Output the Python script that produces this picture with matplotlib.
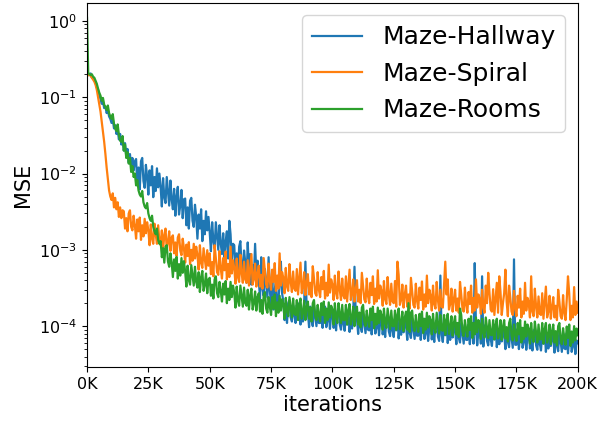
import matplotlib
matplotlib.use('Agg')
import matplotlib.pyplot as plt
from matplotlib.ticker import FuncFormatter


# training step of each logged value (one every 500 iterations)
steps = [i * 500 for i in range(401)]

# Maze-Hallway MSE, one row per 5K iterations
hallway = [
    1.9e-1, 2.0e-1, 1.95e-1, 2.05e-1, 1.8e-1, 1.85e-1, 1.65e-1, 1.55e-1, 1.35e-1, 1.25e-1,
    1.05e-1, 9.5e-2, 8.2e-2, 8.8e-2, 7.2e-2, 7.6e-2, 6.2e-2, 6.8e-2, 5.6e-2, 5.2e-2,
    4.6e-2, 5.2e-2, 3.9e-2, 4.3e-2, 3.3e-2, 3.8e-2, 2.8e-2, 3.3e-2, 2.4e-2, 2.9e-2,
    2.0e-2, 2.5e-2, 1.7e-2, 2.1e-2, 1.4e-2, 1.8e-2, 1.25e-2, 1.6e-2, 1.1e-2, 1.45e-2,
    1.55e-2, 7.0e-3, 1.2e-2, 6.2e-3, 1.45e-2, 1.6e-2, 8.0e-3, 6.5e-3, 1.3e-2, 9.0e-3,
    5.3e-3, 1.1e-2, 7.0e-3, 1.25e-2, 4.9e-3, 9.0e-3, 5.9e-3, 1.17e-2, 6.6e-3, 1.0e-2,
    6.7e-3, 3.7e-3, 8.7e-3, 4.9e-3, 4.1e-3, 9.0e-3, 5.8e-3, 3.8e-3, 8.1e-3, 4.6e-3,
    3.4e-3, 6.3e-3, 2.8e-3, 5.0e-3, 6.7e-3, 2.9e-3, 3.8e-3, 6.1e-3, 2.6e-3, 4.6e-3,
    4.7e-3, 2.1e-3, 3.6e-3, 1.9e-3, 4.4e-3, 4.8e-3, 2.4e-3, 2.0e-3, 3.9e-3, 2.7e-3,
    1.4e-3, 2.9e-3, 1.9e-3, 3.4e-3, 1.3e-3, 2.4e-3, 1.6e-3, 3.2e-3, 1.8e-3, 2.7e-3,
    1.7e-3, 9.6e-4, 2.3e-3, 1.3e-3, 1.05e-3, 2.3e-3, 1.5e-3, 1.0e-3, 2.1e-3, 1.2e-3,
    8.8e-4, 1.65e-3, 7.3e-4, 1.3e-3, 1.75e-3, 7.7e-4, 2.4e-3, 1.6e-3, 6.8e-4, 1.2e-3,
    1.15e-3, 5.2e-4, 9.0e-4, 4.6e-4, 1.1e-3, 1.3e-3, 6.0e-4, 4.9e-4, 9.8e-4, 6.8e-4,
    3.7e-4, 1.25e-3, 5.0e-4, 8.8e-4, 3.5e-4, 6.3e-4, 4.1e-4, 1.2e-3, 4.7e-4, 7.2e-4,
    4.1e-4, 2.3e-4, 8.0e-4, 3.1e-4, 2.5e-4, 5.6e-4, 3.6e-4, 2.4e-4, 8.0e-4, 2.9e-4,
    2.0e-4, 3.8e-4, 1.65e-4, 3.0e-4, 4.0e-4, 1.75e-4, 2.2e-4, 3.6e-4, 7.0e-4, 2.7e-4,
    2.1e-4, 1.2e-4, 1.7e-4, 1.1e-4, 2.0e-4, 2.2e-4, 1.3e-4, 1.15e-4, 1.85e-4, 1.4e-4,
    1.1e-4, 1.9e-4, 1.35e-4, 2.0e-4, 1.05e-4, 1.6e-4, 1.15e-4, 2.0e-4, 7.0e-4, 1.75e-4,
    1.5e-4, 9.7e-5, 1.8e-4, 1.2e-4, 1.0e-4, 1.85e-4, 1.35e-4, 1.0e-4, 1.75e-4, 1.1e-4,
    1.1e-4, 1.75e-4, 9.5e-5, 1.5e-4, 1.8e-4, 9.7e-5, 1.2e-4, 1.65e-4, 9.2e-5, 1.4e-4,
    1.65e-4, 9.5e-5, 1.35e-4, 8.8e-5, 1.55e-4, 1.7e-4, 1.05e-4, 9.0e-5, 1.45e-4, 1.1e-4,
    8.7e-5, 1.5e-4, 1.05e-4, 1.6e-4, 8.4e-5, 1.3e-4, 9.3e-5, 1.55e-4, 6.0e-4, 1.4e-4,
    1.25e-4, 7.9e-5, 1.5e-4, 9.7e-5, 8.4e-5, 1.5e-4, 1.1e-4, 8.1e-5, 1.45e-4, 9.0e-5,
    8.8e-5, 1.4e-4, 7.8e-5, 1.2e-4, 1.45e-4, 8.0e-5, 9.7e-5, 1.35e-4, 7.6e-5, 1.15e-4,
    1.35e-4, 7.8e-5, 1.1e-4, 7.2e-5, 1.3e-4, 1.4e-4, 8.5e-5, 7.4e-5, 1.2e-4, 9.0e-5,
    7.2e-5, 1.25e-4, 8.8e-5, 1.35e-4, 6.9e-5, 1.1e-4, 7.7e-5, 1.3e-4, 8.3e-5, 1.15e-4,
    1.05e-4, 6.6e-5, 1.25e-4, 8.1e-5, 7.0e-5, 1.25e-4, 9.2e-5, 6.8e-5, 1.2e-4, 7.5e-5,
    7.5e-5, 1.2e-4, 6.6e-5, 1.0e-4, 1.25e-4, 6.8e-5, 8.2e-5, 1.15e-4, 6.4e-5, 9.6e-5,
    1.15e-4, 6.7e-5, 9.5e-5, 6.2e-5, 1.1e-4, 1.2e-4, 7.3e-5, 6.4e-5, 4.6e-4, 7.7e-5,
    6.2e-5, 1.1e-4, 7.6e-5, 1.15e-4, 6.0e-5, 9.3e-5, 6.6e-5, 1.1e-4, 7.1e-5, 1.0e-4,
    9.0e-5, 5.8e-5, 1.1e-4, 7.0e-5, 6.1e-5, 1.1e-4, 8.0e-5, 5.9e-5, 1.05e-4, 6.6e-5,
    6.6e-5, 1.05e-4, 5.8e-5, 9.0e-5, 1.1e-4, 5.9e-5, 6.7e-4, 1.0e-4, 5.6e-5, 8.4e-5,
    1.0e-4, 5.9e-5, 4.5e-4, 5.4e-5, 9.6e-5, 1.05e-4, 6.4e-5, 5.6e-5, 9.0e-5, 6.8e-5,
    5.5e-5, 9.5e-5, 6.7e-5, 1.0e-4, 5.3e-5, 8.2e-5, 5.8e-5, 9.9e-5, 6.3e-5, 8.9e-5,
    7.8e-5, 5.0e-5, 9.5e-5, 6.2e-5, 5.3e-5, 9.7e-5, 7.0e-5, 5.2e-5, 7.5e-4, 5.7e-5,
    5.7e-5, 9.2e-5, 5.0e-5, 7.8e-5, 9.5e-5, 5.2e-5, 6.3e-5, 8.8e-5, 4.9e-5, 7.3e-5,
    8.9e-5, 5.1e-5, 7.3e-5, 4.8e-5, 8.4e-5, 9.2e-5, 5.6e-5, 4.9e-5, 7.9e-5, 5.9e-5,
    4.8e-5, 8.3e-5, 5.9e-5, 9.0e-5, 4.6e-5, 7.2e-5, 5.1e-5, 8.6e-5, 5.5e-5, 7.8e-5,
    6.9e-5, 4.5e-5, 8.4e-5, 5.5e-5, 4.7e-5, 8.6e-5, 6.2e-5, 4.6e-5, 8.1e-5, 5.1e-5,
    5.0e-5, 8.1e-5, 4.4e-5, 6.9e-5, 8.4e-5, 4.6e-5, 5.5e-5, 7.8e-5, 4.3e-5, 6.5e-5,
    6.0e-5,
]

# Maze-Spiral MSE
spiral = [
    1.9e-1, 1.95e-1, 2.0e-1, 1.9e-1, 1.8e-1, 1.7e-1, 1.6e-1, 1.45e-1, 1.25e-1, 1.0e-1,
    8.0e-2, 6.5e-2, 4.8e-2, 3.6e-2, 2.6e-2, 1.8e-2, 1.2e-2, 8.5e-3, 6.0e-3, 5.0e-3,
    4.5e-3, 5.5e-3, 3.6e-3, 4.8e-3, 3.4e-3, 4.2e-3, 2.7e-3, 3.6e-3, 2.6e-3, 3.3e-3,
    3.2e-3, 1.9e-3, 2.6e-3, 1.75e-3, 3.0e-3, 3.3e-3, 2.0e-3, 1.8e-3, 2.8e-3, 2.1e-3,
    1.4e-3, 2.5e-3, 1.75e-3, 2.65e-3, 1.35e-3, 2.1e-3, 1.5e-3, 2.55e-3, 1.65e-3, 2.3e-3,
    1.8e-3, 1.15e-3, 2.15e-3, 1.4e-3, 1.2e-3, 2.2e-3, 1.6e-3, 1.2e-3, 2.1e-3, 1.3e-3,
    1.15e-3, 1.8e-3, 1.0e-3, 1.55e-3, 1.9e-3, 1.0e-3, 1.25e-3, 1.75e-3, 9.7e-4, 1.45e-3,
    1.55e-3, 9.0e-4, 1.25e-3, 8.3e-4, 1.45e-3, 1.6e-3, 9.8e-4, 8.5e-4, 1.4e-3, 1.05e-3,
    6.8e-4, 1.17e-3, 8.3e-4, 1.26e-3, 6.5e-4, 1.0e-3, 7.2e-4, 1.2e-3, 7.7e-4, 1.1e-3,
    8.5e-4, 5.5e-4, 1.15e-3, 6.7e-4, 5.8e-4, 1.05e-3, 7.6e-4, 5.6e-4, 9.9e-4, 6.2e-4,
    9.0e-4, 4.8e-4, 6.9e-4, 4.5e-4, 1.15e-3, 7.8e-4, 5.1e-4, 4.7e-4, 9.6e-4, 5.7e-4,
    4.2e-4, 7.8e-4, 5.4e-4, 9.5e-4, 4.1e-4, 6.5e-4, 4.4e-4, 1.1e-3, 4.9e-4, 7.3e-4,
    5.8e-4, 3.6e-4, 7.7e-4, 4.4e-4, 3.8e-4, 8.6e-4, 5.0e-4, 3.7e-4, 7.0e-4, 4.1e-4,
    3.7e-4, 7.3e-4, 3.4e-4, 5.5e-4, 8.8e-4, 3.5e-4, 4.2e-4, 6.6e-4, 3.3e-4, 4.8e-4,
    6.2e-4, 3.3e-4, 4.7e-4, 3.1e-4, 7.8e-4, 5.3e-4, 3.5e-4, 3.2e-4, 6.6e-4, 3.9e-4,
    3.0e-4, 5.5e-4, 3.8e-4, 6.7e-4, 2.9e-4, 4.6e-4, 3.1e-4, 9.0e-4, 3.4e-4, 5.1e-4,
    4.3e-4, 2.7e-4, 5.8e-4, 3.3e-4, 2.9e-4, 6.5e-4, 3.8e-4, 2.8e-4, 5.2e-4, 3.1e-4,
    2.9e-4, 5.6e-4, 2.6e-4, 4.3e-4, 6.8e-4, 2.7e-4, 3.2e-4, 5.1e-4, 2.55e-4, 3.7e-4,
    4.8e-4, 2.6e-4, 3.7e-4, 2.4e-4, 6.1e-4, 4.2e-4, 2.7e-4, 2.5e-4, 5.1e-4, 3.0e-4,
    2.4e-4, 4.4e-4, 3.05e-4, 5.3e-4, 2.3e-4, 3.7e-4, 2.5e-4, 6.4e-4, 2.75e-4, 4.1e-4,
    3.5e-4, 2.2e-4, 4.6e-4, 2.7e-4, 2.3e-4, 5.2e-4, 3.0e-4, 2.2e-4, 4.2e-4, 2.5e-4,
    2.3e-4, 4.5e-4, 2.1e-4, 3.4e-4, 5.5e-4, 2.2e-4, 2.6e-4, 4.1e-4, 2.1e-4, 3.0e-4,
    4.0e-4, 2.1e-4, 3.0e-4, 2.0e-4, 5.0e-4, 3.4e-4, 2.25e-4, 2.05e-4, 4.2e-4, 2.5e-4,
    2.0e-4, 3.7e-4, 2.55e-4, 4.5e-4, 1.95e-4, 3.1e-4, 2.1e-4, 5.4e-4, 2.3e-4, 3.4e-4,
    2.9e-4, 1.85e-4, 3.9e-4, 2.25e-4, 1.95e-4, 4.4e-4, 2.6e-4, 1.9e-4, 3.6e-4, 2.1e-4,
    2.0e-4, 3.9e-4, 1.8e-4, 7.0e-4, 4.7e-4, 1.9e-4, 2.2e-4, 3.5e-4, 1.75e-4, 2.6e-4,
    3.4e-4, 1.8e-4, 2.6e-4, 1.7e-4, 4.3e-4, 2.9e-4, 1.9e-4, 1.75e-4, 3.6e-4, 2.15e-4,
    1.7e-4, 3.2e-4, 2.2e-4, 3.85e-4, 1.65e-4, 2.6e-4, 1.8e-4, 4.6e-4, 2.0e-4, 3.0e-4,
    2.5e-4, 1.6e-4, 3.4e-4, 1.95e-4, 1.7e-4, 3.8e-4, 2.2e-4, 1.6e-4, 3.0e-4, 1.8e-4,
    1.75e-4, 3.4e-4, 7.0e-4, 2.6e-4, 4.1e-4, 1.65e-4, 1.95e-4, 3.1e-4, 1.55e-4, 2.25e-4,
    3.0e-4, 1.6e-4, 2.3e-4, 1.5e-4, 3.8e-4, 2.6e-4, 1.7e-4, 1.55e-4, 3.2e-4, 1.9e-4,
    1.5e-4, 2.8e-4, 1.95e-4, 3.4e-4, 1.5e-4, 2.35e-4, 1.6e-4, 4.1e-4, 1.75e-4, 2.6e-4,
    2.3e-4, 1.45e-4, 3.0e-4, 1.75e-4, 1.5e-4, 3.4e-4, 2.0e-4, 5.0e-4, 2.75e-4, 1.65e-4,
    1.55e-4, 3.05e-4, 1.4e-4, 2.3e-4, 3.7e-4, 1.5e-4, 4.5e-4, 2.8e-4, 1.4e-4, 2.0e-4,
    2.7e-4, 5.5e-4, 2.1e-4, 1.35e-4, 3.4e-4, 2.35e-4, 1.55e-4, 1.4e-4, 2.9e-4, 1.7e-4,
    1.35e-4, 2.5e-4, 1.75e-4, 3.1e-4, 1.3e-4, 2.1e-4, 1.45e-4, 3.7e-4, 1.6e-4, 2.35e-4,
    2.05e-4, 1.3e-4, 4.5e-4, 1.55e-4, 1.35e-4, 3.1e-4, 1.8e-4, 1.3e-4, 2.45e-4, 1.45e-4,
    1.4e-4, 2.7e-4, 1.25e-4, 2.05e-4, 3.3e-4, 1.3e-4, 1.55e-4, 2.5e-4, 1.25e-4, 1.8e-4,
    2.4e-4, 1.3e-4, 1.85e-4, 1.2e-4, 3.0e-4, 2.1e-4, 1.35e-4, 1.25e-4, 2.55e-4, 1.5e-4,
    1.2e-4, 2.25e-4, 4.5e-4, 2.7e-4, 1.2e-4, 1.85e-4, 1.3e-4, 3.25e-4, 1.4e-4, 2.1e-4,
    1.5e-4,
]

# Maze-Rooms MSE
rooms = [
    1.1e0, 2.1e-1, 2.0e-1, 1.95e-1, 2.0e-1, 1.85e-1, 1.8e-1, 1.65e-1, 1.5e-1, 1.3e-1,
    1.15e-1, 1.05e-1, 9.0e-2, 9.8e-2, 8.0e-2, 7.4e-2, 6.8e-2, 7.8e-2, 6.2e-2, 5.6e-2,
    5.2e-2, 6.0e-2, 4.5e-2, 3.9e-2, 3.6e-2, 4.4e-2, 3.2e-2, 2.7e-2, 2.6e-2, 3.1e-2,
    2.0e-2, 2.4e-2, 1.6e-2, 1.9e-2, 1.35e-2, 1.6e-2, 1.05e-2, 1.25e-2, 9.0e-3, 1.0e-2,
    7.0e-3, 8.2e-3, 6.0e-3, 5.3e-3, 5.0e-3, 5.9e-3, 4.2e-3, 3.7e-3, 3.5e-3, 4.1e-3,
    3.0e-3, 2.6e-3, 2.4e-3, 2.8e-3, 2.0e-3, 1.75e-3, 1.6e-3, 1.9e-3, 1.35e-3, 1.2e-3,
    1.3e-3, 8.0e-4, 1.05e-3, 6.8e-4, 1.1e-3, 1.15e-3, 7.0e-4, 6.0e-4, 9.0e-4, 6.8e-4,
    4.4e-4, 7.5e-4, 5.3e-4, 8.1e-4, 4.2e-4, 6.5e-4, 4.6e-4, 7.8e-4, 5.0e-4, 7.1e-4,
    5.2e-4, 3.3e-4, 6.2e-4, 4.0e-4, 3.5e-4, 6.3e-4, 4.6e-4, 3.4e-4, 6.0e-4, 3.8e-4,
    3.2e-4, 5.1e-4, 2.8e-4, 4.4e-4, 5.3e-4, 2.9e-4, 3.5e-4, 4.9e-4, 2.7e-4, 4.1e-4,
    4.3e-4, 2.5e-4, 3.5e-4, 2.3e-4, 4.1e-4, 4.5e-4, 2.7e-4, 2.4e-4, 3.8e-4, 2.9e-4,
    2.1e-4, 3.6e-4, 2.6e-4, 3.9e-4, 2.0e-4, 3.1e-4, 2.2e-4, 3.8e-4, 2.4e-4, 3.4e-4,
    2.75e-4, 1.75e-4, 3.3e-4, 2.15e-4, 1.85e-4, 3.4e-4, 2.45e-4, 1.8e-4, 3.2e-4, 2.0e-4,
    1.85e-4, 3.0e-4, 1.65e-4, 2.5e-4, 3.1e-4, 1.65e-4, 2.0e-4, 2.85e-4, 1.6e-4, 2.4e-4,
    2.7e-4, 1.55e-4, 2.2e-4, 1.45e-4, 2.55e-4, 2.8e-4, 1.7e-4, 1.5e-4, 2.4e-4, 1.8e-4,
    1.4e-4, 2.4e-4, 1.7e-4, 2.6e-4, 1.35e-4, 2.05e-4, 1.5e-4, 2.5e-4, 1.6e-4, 2.25e-4,
    1.95e-4, 1.25e-4, 2.35e-4, 1.55e-4, 1.35e-4, 2.4e-4, 1.75e-4, 1.3e-4, 2.3e-4, 1.45e-4,
    1.4e-4, 2.2e-4, 1.2e-4, 1.9e-4, 2.3e-4, 1.25e-4, 1.5e-4, 2.15e-4, 1.2e-4, 1.8e-4,
    2.1e-4, 1.25e-4, 1.75e-4, 1.15e-4, 2.0e-4, 2.2e-4, 1.35e-4, 1.2e-4, 1.9e-4, 1.4e-4,
    1.15e-4, 2.0e-4, 1.4e-4, 2.1e-4, 1.1e-4, 1.7e-4, 1.2e-4, 2.05e-4, 1.3e-4, 1.85e-4,
    1.65e-4, 1.05e-4, 2.0e-4, 1.3e-4, 1.1e-4, 2.0e-4, 1.45e-4, 1.1e-4, 1.9e-4, 1.2e-4,
    1.2e-4, 1.9e-4, 1.05e-4, 1.6e-4, 1.95e-4, 1.05e-4, 1.3e-4, 1.8e-4, 1.0e-4, 1.5e-4,
    1.8e-4, 1.05e-4, 1.5e-4, 9.7e-5, 1.75e-4, 1.9e-4, 1.15e-4, 1.0e-4, 1.6e-4, 1.2e-4,
    9.8e-5, 1.7e-4, 1.2e-4, 1.8e-4, 9.4e-5, 1.45e-4, 1.05e-4, 1.75e-4, 1.1e-4, 1.6e-4,
    1.4e-4, 9.0e-5, 1.7e-4, 1.1e-4, 9.5e-5, 1.7e-4, 1.25e-4, 9.2e-5, 1.6e-4, 1.0e-4,
    1.0e-4, 1.6e-4, 8.9e-5, 1.4e-4, 1.7e-4, 9.1e-5, 1.1e-4, 1.55e-4, 8.6e-5, 1.3e-4,
    1.55e-4, 9.0e-5, 2.0e-4, 8.4e-5, 1.5e-4, 1.6e-4, 9.9e-5, 8.6e-5, 1.4e-4, 1.05e-4,
    8.4e-5, 1.45e-4, 1.0e-4, 1.55e-4, 8.1e-5, 1.25e-4, 9.0e-5, 1.5e-4, 9.6e-5, 1.35e-4,
    1.2e-4, 7.8e-5, 1.45e-4, 9.5e-5, 8.2e-5, 1.5e-4, 1.08e-4, 8.0e-5, 1.4e-4, 8.9e-5,
    8.7e-5, 1.4e-4, 7.7e-5, 1.2e-4, 1.45e-4, 7.9e-5, 9.6e-5, 1.35e-4, 7.5e-5, 1.1e-4,
    1.35e-4, 7.8e-5, 1.1e-4, 7.2e-5, 1.7e-4, 1.4e-4, 8.5e-5, 7.4e-5, 1.2e-4, 9.0e-5,
    7.3e-5, 1.25e-4, 8.9e-5, 1.35e-4, 7.0e-5, 1.1e-4, 7.8e-5, 1.3e-4, 8.3e-5, 1.2e-4,
    1.05e-4, 6.8e-5, 1.25e-4, 8.3e-5, 7.1e-5, 1.3e-4, 9.4e-5, 7.0e-5, 1.2e-4, 7.7e-5,
    7.6e-5, 1.2e-4, 6.7e-5, 1.05e-4, 1.25e-4, 6.9e-5, 8.4e-5, 1.2e-4, 6.6e-5, 9.8e-5,
    1.2e-4, 6.9e-5, 9.7e-5, 6.3e-5, 1.1e-4, 1.25e-4, 7.5e-5, 6.5e-5, 1.05e-4, 7.9e-5,
    6.4e-5, 1.1e-4, 7.8e-5, 1.2e-4, 6.1e-5, 9.5e-5, 6.8e-5, 1.15e-4, 7.3e-5, 1.05e-4,
    9.2e-5, 5.9e-5, 1.1e-4, 7.2e-5, 6.2e-5, 1.15e-4, 8.2e-5, 6.1e-5, 1.05e-4, 6.7e-5,
    6.7e-5, 1.1e-4, 5.9e-5, 9.2e-5, 1.1e-4, 6.1e-5, 7.4e-5, 1.05e-4, 5.8e-5, 8.6e-5,
    1.05e-4, 6.1e-5, 8.6e-5, 5.6e-5, 1.0e-4, 1.1e-4, 6.6e-5, 5.8e-5, 9.4e-5, 7.0e-5,
    5.7e-5, 9.9e-5, 7.0e-5, 1.05e-4, 5.5e-5, 8.5e-5, 6.1e-5, 1.0e-4, 6.5e-5, 9.3e-5,
    7.6e-5,
]

labels = ['Maze-Hallway', 'Maze-Spiral', 'Maze-Rooms']
xticks = [0, 25000, 50000, 75000, 100000, 125000, 150000, 175000, 200000]

fig = plt.figure(figsize=(6, 4.23), dpi=100)
ax = fig.add_axes([0.145, 0.132, 0.818, 0.861])

ax.plot(steps, hallway, color='tab:blue', lw=1.6, label=labels[0])
ax.plot(steps, spiral, color='tab:orange', lw=1.6, label=labels[1])
ax.plot(steps, rooms, color='tab:green', lw=1.6, label=labels[2])

ax.set_yscale('log')
ax.set_ylim(2.9e-5, 1.72)
ax.set_xlim(0, 200000)
ax.set_xticks(xticks)
ax.xaxis.set_major_formatter(FuncFormatter(lambda v, p: '%dK' % int(v / 1000)))
ax.tick_params(labelsize=11.5)

ax.set_xlabel('iterations', fontsize=15, labelpad=2)
ax.set_ylabel('MSE', fontsize=15)
ax.legend(loc='upper right', fontsize=18)

fig.savefig('out.png', dpi=100)
